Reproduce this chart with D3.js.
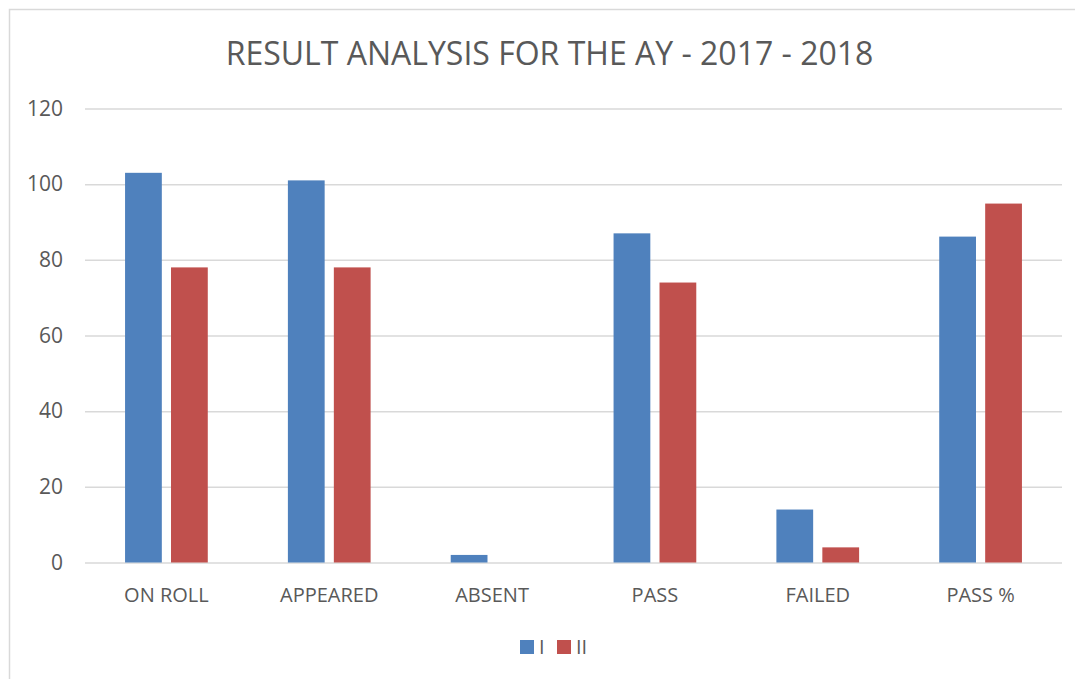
<!DOCTYPE html>
<html>
<head>
<meta charset="utf-8">
<script src="https://cdn.jsdelivr.net/npm/d3@7/dist/d3.min.js"></script>
<style>
  html, body { margin: 0; padding: 0; background: #ffffff; }
  svg { display: block; font-family: "Open Sans", "Noto Sans", sans-serif; }
</style>
</head>
<body>
<svg id="chart" width="1075" height="679"></svg>
<script>
const categories = ["ON ROLL", "APPEARED", "ABSENT", "PASS", "FAILED", "PASS %"];
const seriesNames = ["I", "II"];
const seriesI = [103, 101, 2, 87, 14, 86.14];
const seriesII = [78, 78, 0, 74, 4, 94.87];
const yTicks = [0, 20, 40, 60, 80, 100, 120];
const colors = ["#4f81bd", "#c0504d"];
const titleText = "RESULT ANALYSIS FOR THE AY - 2017 - 2018";

const svg = d3.select("#chart");
const W = 1075, H = 679;
const plot = { left: 85, right: 1062, top: 108.5, bottom: 562.5 };

// chart border
svg.append("rect")
  .attr("x", 9.5).attr("y", 9.5)
  .attr("width", W + 10).attr("height", H + 10)
  .attr("fill", "#ffffff").attr("stroke", "#d9d9d9").attr("stroke-width", 1.5);

const y = d3.scaleLinear().domain([0, 120]).range([plot.bottom, plot.top]);
const x0 = d3.scaleBand().domain(categories).range([plot.left, plot.right])
  .paddingInner(0.492).paddingOuter(0.246);
const x1 = d3.scaleBand().domain(seriesNames).range([0, x0.bandwidth()])
  .paddingInner(0.2).paddingOuter(0);

// gridlines + y labels
const yAxis = d3.axisLeft(y).tickValues(yTicks).tickSize(-(plot.right - plot.left)).tickPadding(22);
const gy = svg.append("g").attr("transform", `translate(${plot.left},0)`).call(yAxis);
gy.select(".domain").remove();
gy.selectAll(".tick line").attr("stroke", "#d9d9d9").attr("stroke-width", 1.5);
gy.selectAll(".tick text").attr("fill", "#595959").attr("font-size", 21)
  .attr("font-family", "'Open Sans', sans-serif");

// bars
const data = categories.map((c, i) => ({ cat: c, vals: [
  { s: "I", v: seriesI[i], c: colors[0] },
  { s: "II", v: seriesII[i], c: colors[1] } ] }));

const groups = svg.append("g").selectAll("g").data(data).join("g")
  .attr("transform", d => `translate(${x0(d.cat)},0)`);
groups.selectAll("rect").data(d => d.vals).join("rect")
  .attr("x", d => x1(d.s))
  .attr("width", x1.bandwidth())
  .attr("y", d => y(d.v))
  .attr("height", d => y(0) - y(d.v))
  .attr("fill", d => d.c);

// x axis labels
const xAxis = d3.axisBottom(x0).tickSize(0).tickPadding(25);
const gx = svg.append("g").attr("transform", `translate(0,${plot.bottom})`).call(xAxis);
gx.select(".domain").remove();
gx.selectAll(".tick text").attr("fill", "#595959").attr("font-size", 20)
  .attr("font-family", "'Open Sans', sans-serif");

// title
svg.append("text")
  .attr("x", 549.5).attr("y", 65)
  .attr("text-anchor", "middle")
  .attr("fill", "#595959").attr("font-size", 32)
  .text(titleText);

// legend
const legend = svg.append("g");
const legendX = [520, 557];
seriesNames.forEach((s, i) => {
  legend.append("rect").attr("x", legendX[i]).attr("y", 640)
    .attr("width", 14).attr("height", 14).attr("fill", colors[i]);
  legend.append("text").attr("x", legendX[i] + 19).attr("y", 654)
    .attr("fill", "#595959").attr("font-size", 20).text(s);
});
</script>
</body>
</html>
